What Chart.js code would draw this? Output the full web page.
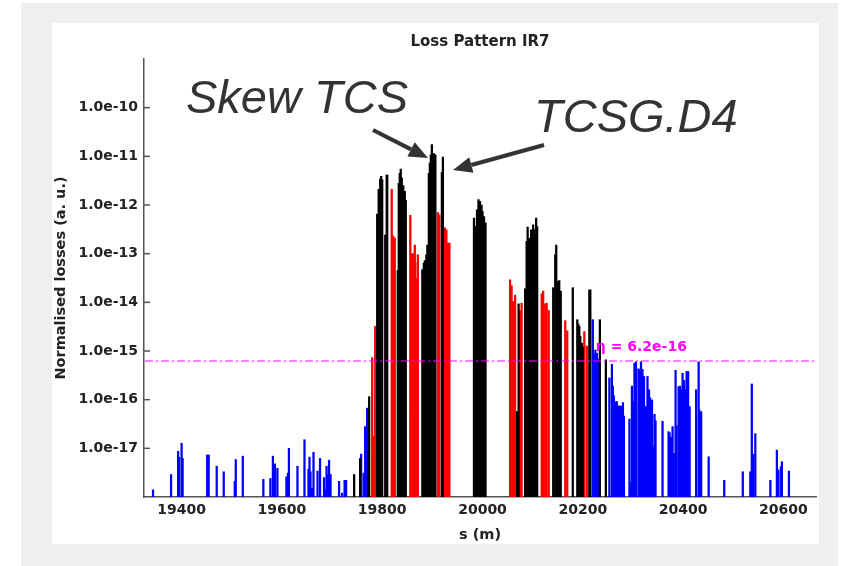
<!DOCTYPE html>
<html><head><meta charset="utf-8">
<script src="https://cdn.jsdelivr.net/npm/chart.js@4"></script>
<style>
html,body{margin:0;padding:0;background:#fff;width:846px;height:566px;overflow:hidden}
#frame{position:absolute;left:21px;top:3px;width:817px;height:563px;background:#efefef}
#panel{position:absolute;left:52px;top:23px;width:767px;height:521px;background:#fff}
canvas{display:block}
</style></head><body>
<div id="frame"></div>
<div id="panel"><canvas id="c" width="767" height="521"></canvas></div>
<script>
// ---- data (s in metres, normalised losses) ----
const blackS = [19744,19756,19772,19774,19790,19793,19796,19798,19800,19806,19809,19810,19831,19833,19835,19837,19839,19842,19845,19847,19880,19883,19885,19888,19890,19893,19895,19897,19899,19901,19903,19906,19919,19921,19983,19986,19989,19992,19995,19998,20000,20003,20006,20069,20072,20085,20088,20090,20092,20095,20097,20101,20104,20107,20109,20141,20145,20147,20150,20153,20156,20180,20189,20191,20193,20195,20198,20200,20213,20215,20234,20246];
const blackLoss = [2.9e-18,6.2e-18,8.8e-18,1.15e-16,6.5e-13,2.1e-12,3.4e-12,3.9e-12,3.3e-12,2.4e-13,4.1e-12,4.1e-12,4.5e-14,2.8e-12,4.5e-12,5.5e-12,3.6e-12,2.5e-12,1.9e-12,1.25e-12,4.7e-14,6.4e-14,7.2e-14,9.5e-14,1.5e-13,4.5e-12,7.3e-12,1.08e-11,1.74e-11,1.08e-11,1.14e-11,1.08e-11,4.7e-12,9.7e-12,5.4e-13,3.6e-13,8.0e-13,1.29e-12,1.19e-12,1.0e-12,7.4e-13,5.8e-13,4.3e-13,5.7e-17,9.3e-15,1.9e-14,1.8e-13,3.5e-13,2.0e-13,2.1e-13,3.1e-13,3.9e-13,3.1e-13,5.4e-13,3.6e-13,2.0e-14,9.5e-14,1.5e-13,2.7e-14,2.8e-14,1.7e-14,2.0e-14,4.4e-15,3.6e-15,3.2e-15,2.0e-15,1.45e-15,1.2e-15,1.8e-14,1.8e-14,4.4e-15,6.6e-16];

const redS = [19780,19782,19786,19819,19822,19825,19856,19857,19859,19862,19865,19866,19869,19871,19911,19914,19925,19928,19931,19934,20055,20058,20061,20065,20075,20078,20118,20121,20125,20128,20132,20165,20169,20203,20208];
const redLoss = [7.3e-16,1.8e-17,3.2e-15,2.1e-12,2.3e-13,2.1e-13,6.1e-13,5.4e-17,1.0e-13,1.0e-13,1.5e-13,6.6e-14,3.1e-14,9.5e-14,7.0e-13,6.3e-13,3.4e-13,3.1e-13,1.65e-13,1.65e-13,2.9e-14,2.2e-14,1.04e-14,1.4e-14,6.8e-15,9.6e-15,1.5e-14,1.7e-14,9.3e-15,9.6e-15,6.8e-15,4.2e-15,2.6e-15,2.5e-15,1.27e-15];

const blueS = [19343,19379,19393,19395,19400,19402,19451,19454,19470,19484,19506,19508,19522,19563,19577,19582,19586,19591,19609,19612,19614,19631,19645,19653,19655,19657,19660,19663,19671,19676,19684,19687,19689,19692,19694,19697,19714,19720,19725,19728,19758,19763,19766,19768,19770,
 20220,20222,20225,20228,20230,
 20253,20258,20260,20262,20266,20268,20272,20274,20278,20280,20282,
 20293,20296,20298,20301,20303,20306,20311,20314,20316,20319,20322,20326,20329,20332,20334,20338,20340,20343,20345,
 20359,
 20371,20373,20376,20379,20382,20385,20387,20391,20394,20396,20399,20402,20405,20407,20410,20413,
 20426,20431,20432,20436,
 20451,20482,20519,20534,20537,20540,20544,20574,20587,20590,20595,20597,20611];
const blueLoss = [1.4e-18,2.9e-18,8.7e-18,6.5e-18,1.27e-17,6.2e-18,7.3e-18,7.3e-18,4.3e-18,3.3e-18,2.1e-18,5.9e-18,6.9e-18,2.3e-18,2.4e-18,6.9e-18,4.8e-18,3.9e-18,2.6e-18,3.1e-18,1.0e-17,4.3e-18,1.5e-17,3.7e-18,6.6e-18,3.3e-18,1.5e-18,8.3e-18,3.4e-18,6.2e-18,2.5e-18,1.4e-18,4.3e-18,2.9e-18,5.7e-18,2.9e-18,2.1e-18,1.2e-18,2.2e-18,2.2e-18,7.6e-18,3.1e-18,2.8e-17,1.6e-17,6.7e-17,
 4.4e-15,8.7e-16,1.05e-15,9.0e-16,6.8e-16,
 2.8e-16,5.3e-16,1.9e-16,1.2e-16,9.1e-17,9.1e-17,7.4e-17,7.4e-17,7.4e-17,8.7e-17,4.6e-17,
 4.0e-17,2.0e-18,1.9e-16,9.1e-17,5.6e-16,6.0e-16,4.3e-16,4.1e-16,6.0e-16,4.2e-16,3.0e-16,7.2e-17,3.0e-16,1.6e-16,1.1e-16,9.9e-17,1.1e-17,5.0e-17,3.7e-17,
 3.6e-17,
 2.2e-17,2.1e-17,1.7e-17,2.8e-17,7.9e-18,4.0e-16,2.9e-17,1.85e-16,1.9e-16,1.6e-16,3.5e-16,2.5e-16,1.6e-16,3.8e-16,3.8e-16,7.2e-17,
 1.6e-16,6.0e-16,6.3e-17,5.7e-17,
 6.7e-18,2.2e-18,3.3e-18,3.3e-18,2.1e-16,7.6e-18,2.0e-17,2.2e-18,9.2e-18,3.6e-18,4.2e-18,5.3e-18,3.4e-18];

const xTicks = [19400,19600,19800,20000,20200,20400,20600];
const yTicks = [1e-10,1e-11,1e-12,1e-13,1e-14,1e-15,1e-16,1e-17];
const etaValue = 6.2e-16;
const etaLabelS = 20226;
const etaText = 'η = 6.2e-16';

const FONT = "'DejaVu Sans', sans-serif";
const AXIS = '#555';
const MAGENTA = 'rgb(255,0,255)';

function pts(xs, ys){ return xs.map((s,i)=>({x:s, y:ys[i]})); }

const overlay = {
  id:'overlay',
  afterDraw(chart){
    const {ctx, chartArea:a, scales:{x, y}} = chart;
    ctx.save();
    // eta threshold line (dash-dot, magenta)
    const yy = Math.round(y.getPixelForValue(etaValue));
    ctx.globalAlpha = 1;
    ctx.globalCompositeOperation = 'source-over';
    ctx.strokeStyle = MAGENTA;
    ctx.lineWidth = 1.2;
    ctx.setLineDash([8,3,2,3]);
    ctx.beginPath(); ctx.moveTo(a.left + 1, yy); ctx.lineTo(a.right, yy); ctx.stroke();
    ctx.setLineDash([]);
    ctx.fillStyle = MAGENTA;
    ctx.font = "bold 14px " + FONT;
    ctx.textBaseline = 'alphabetic';
    ctx.textAlign = 'left';
    ctx.fillText(etaText, x.getPixelForValue(etaLabelS), yy - 10);
    // inward y ticks
    ctx.strokeStyle = AXIS; ctx.lineWidth = 1.5;
    yTicks.forEach(v=>{
      const p = y.getPixelForValue(v);
      ctx.beginPath(); ctx.moveTo(a.left, p); ctx.lineTo(a.left + 6, p); ctx.stroke();
    });
    // annotations
    ctx.fillStyle = '#333';
    ctx.font = "italic 47px 'Liberation Sans', Arial, sans-serif";
    ctx.fillText('Skew TCS', 134, 90);
    ctx.fillText('TCSG.D4', 482, 109);
    function arrow(x1,y1,x2,y2){
      const ang = Math.atan2(y2-y1, x2-x1), L = 19, W = 8;
      const bx = x2 - L*Math.cos(ang), by = y2 - L*Math.sin(ang);
      ctx.strokeStyle = '#333'; ctx.lineWidth = 4; ctx.lineCap = 'butt';
      ctx.beginPath(); ctx.moveTo(x1,y1); ctx.lineTo(bx,by); ctx.stroke();
      ctx.beginPath();
      ctx.moveTo(x2,y2);
      ctx.lineTo(bx + W*Math.sin(ang), by - W*Math.cos(ang));
      ctx.lineTo(bx - W*Math.sin(ang), by + W*Math.cos(ang));
      ctx.closePath(); ctx.fill();
    }
    arrow(321,107,376,135);
    arrow(492,122,401,147);
    ctx.restore();
  }
};

new Chart(document.getElementById('c'), {
  type: 'bar',
  data: { datasets: [
    {label:'Collimators', data: pts(blackS, blackLoss), backgroundColor:'#000000'},
    {label:'Warm elements', data: pts(redS, redLoss), backgroundColor:'#ff0000'},
    {label:'Cold elements', data: pts(blueS, blueLoss), backgroundColor:'#0000ff'}
  ]},
  options: {
    responsive:false, animation:false,
    layout:{padding:{top:0,right:3,left:0,bottom:0}},
    datasets:{bar:{barThickness:1.6, grouped:false, borderWidth:0}},
    plugins:{
      legend:{display:false}, tooltip:{enabled:false},
      title:{display:true, text:'Loss Pattern IR7', fullSize:false, color:'#222',
        font:{family:FONT, size:15, weight:'bold'}, padding:{top:10,bottom:8}}
    },
    scales:{
      x:{type:'linear', min:19325, max:20665, offset:false,
        grid:{display:false, drawTicks:false},
        border:{display:true, color:AXIS, width:1.5},
        afterBuildTicks: s=>{ s.ticks = xTicks.map(v=>({value:v})); },
        afterFit: s=>{ s.height = 47; },
        ticks:{padding:5, color:'#222', maxRotation:0, autoSkip:false,
          font:{family:FONT, size:14, weight:'bold'}, callback:v=>String(v)},
        title:{display:true, text:'s (m)', color:'#222',
          font:{family:FONT, size:14.5, weight:'bold'}, padding:{top:0,bottom:0}}
      },
      y:{type:'logarithmic', min:1e-18, max:1e-9,
        grid:{display:false, drawTicks:false},
        border:{display:true, color:AXIS, width:1.5},
        afterBuildTicks: s=>{ s.ticks = yTicks.map(v=>({value:v})); },
        afterFit: s=>{ s.width = 92; },
        ticks:{padding:6, color:'#222', autoSkip:false,
          font:{family:FONT, size:14, weight:'bold'}, callback:v=>Number(v).toExponential(1)},
        title:{display:true, text:'Normalised losses (a. u.)', color:'#222',
          font:{family:FONT, size:14.5, weight:'bold'}, padding:{top:1,bottom:0}}
      }
    }
  },
  plugins:[overlay]
});
</script></body></html>
